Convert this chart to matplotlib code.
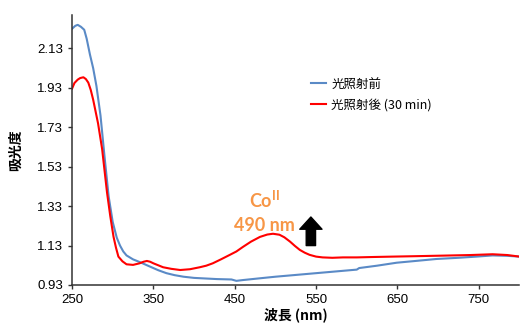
import numpy as np
import matplotlib
matplotlib.use("Agg")
import matplotlib.pyplot as plt

plt.rcParams['font.family'] = ['Liberation Sans', 'Noto Sans CJK JP', 'DejaVu Sans']

# Spectrum before irradiation (blue)
wl_before = [250, 254, 257, 261, 265, 268, 272, 276, 280, 285, 290, 295, 300,
             305, 309, 313, 317, 325, 334, 346, 356, 366, 376, 387, 400, 428,
             446, 452, 460, 481, 500, 525, 550, 575, 600, 603, 625, 649, 675,
             698, 725, 747, 767, 785, 800]
abs_before = [2.23, 2.245, 2.25, 2.24, 2.225, 2.18, 2.10, 2.03, 1.94, 1.79, 1.58,
              1.38, 1.25, 1.17, 1.13, 1.10, 1.08, 1.06, 1.045, 1.023, 1.005, 0.99,
              0.98, 0.972, 0.966, 0.96, 0.958, 0.951, 0.955, 0.964, 0.972, 0.981,
              0.99, 0.999, 1.008, 1.016, 1.028, 1.043, 1.053, 1.062, 1.068, 1.074,
              1.08, 1.078, 1.074]

# Spectrum after 30 min irradiation (red)
wl_after = [250, 253, 257, 260, 264, 267, 270, 273, 276, 279, 282, 287, 290,
            293, 297, 301, 304, 307, 312, 317, 325, 333, 338, 342, 346, 350,
            356, 362, 372, 383, 395, 407, 415, 423, 433, 444, 452, 460, 470,
            481, 490, 497, 505, 511, 518, 524, 530, 536, 542, 550, 558, 570,
            583, 600, 620, 644, 670, 706, 740, 767, 785, 800]
abs_after = [1.926, 1.955, 1.972, 1.98, 1.984, 1.975, 1.957, 1.92, 1.87, 1.81,
             1.75, 1.62, 1.51, 1.40, 1.28, 1.175, 1.12, 1.074, 1.05, 1.035,
             1.032, 1.04, 1.048, 1.052, 1.048, 1.04, 1.03, 1.02, 1.012, 1.006,
             1.01, 1.02, 1.028, 1.04, 1.06, 1.083, 1.10, 1.123, 1.15, 1.174,
             1.186, 1.19, 1.185, 1.172, 1.15, 1.128, 1.108, 1.094, 1.083, 1.074,
             1.07, 1.068, 1.07, 1.07, 1.072, 1.074, 1.076, 1.079, 1.082, 1.086,
             1.082, 1.074]

y_ticks = [0.93, 1.13, 1.33, 1.53, 1.73, 1.93, 2.13]
x_ticks = [250, 350, 450, 550, 650, 750]

fig = plt.figure(figsize=(5.2, 3.26), dpi=100)
ax = fig.add_axes([0.1385, 0.1258, 0.8605, 0.8282])

ax.plot(wl_before, abs_before, color='#5A8AC6', lw=1.5, label='光照射前')
ax.plot(wl_after, abs_after, color='#FF0000', lw=1.5, label='光照射後 (30 min)')

ax.set_xlim(250, 800)
ax.set_ylim(0.93, 2.30)
ax.set_xticks(x_ticks)
ax.set_yticks(y_ticks)
ax.set_yticklabels(['%.2f' % v for v in y_ticks])
ax.tick_params(labelsize=9.5, length=3, width=1, direction='out', color='#333333')
for s in ['top', 'right']:
    ax.spines[s].set_visible(False)
for s in ['left', 'bottom']:
    ax.spines[s].set_linewidth(1.1)
    ax.spines[s].set_color('#333333')

ax.set_xlabel('波長 (nm)', fontsize=10, fontweight='bold',
              family=['Noto Sans CJK JP'], labelpad=1)
ax.set_ylabel('吸光度', fontsize=10, fontweight='bold',
              family=['Noto Sans CJK JP'], labelpad=10)

leg = ax.legend(loc='upper left', bbox_to_anchor=(0.51, 0.81), frameon=False,
                prop={'family': ['Noto Sans CJK JP'], 'size': 9},
                handlelength=1.2, handletextpad=0.4, labelspacing=0.65)

ax.text(487, 1.362, 'Co$^{\\mathregular{II}}$', color='#F79646', fontsize=13,
        fontweight='bold', family=['Lato'], ha='center', va='center')
ax.text(487, 1.23, '490 nm', color='#F79646', fontsize=13,
        fontweight='bold', family=['Lato'], ha='center', va='center')

ax.annotate('', xy=(543.6, 1.275), xytext=(543.6, 1.13),
            arrowprops=dict(arrowstyle='simple,head_length=0.55,head_width=1.0,tail_width=0.42',
                            color='black', mutation_scale=16, shrinkA=0, shrinkB=0))

fig.savefig('out.png', dpi=100)
